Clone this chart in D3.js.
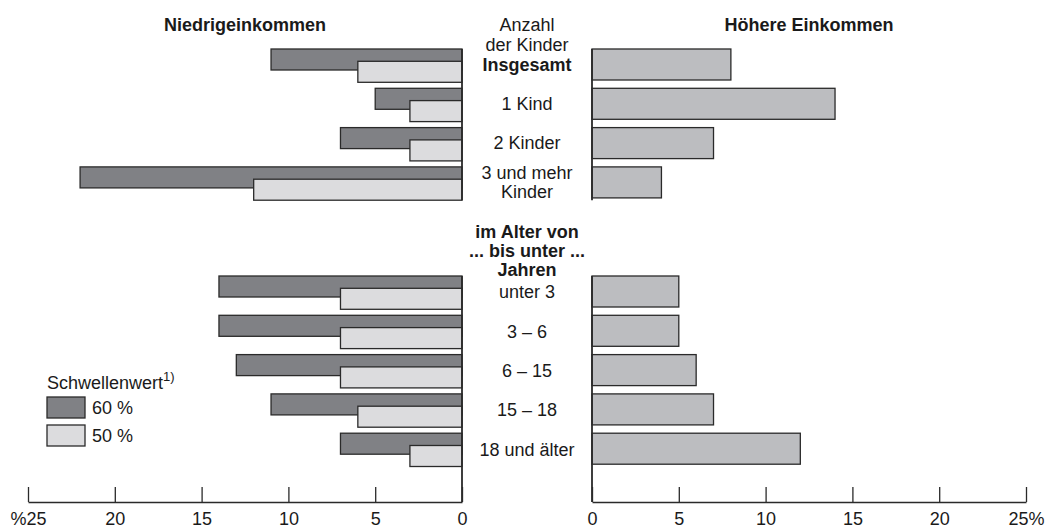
<!DOCTYPE html>
<html>
<head>
<meta charset="utf-8">
<script src="https://cdn.jsdelivr.net/npm/d3@7"></script>
<style>
  html, body { margin: 0; padding: 0; background: #fff; }
  svg { display: block; }
  text { font-family: "Liberation Sans", Arial, Helvetica, sans-serif; fill: #1a1a1a; }
</style>
</head>
<body>
<svg id="chart" width="1046" height="529"></svg>
<script>
// ---- data ----
const kinderCategories = [["Insgesamt"], ["1 Kind"], ["2 Kinder"], ["3 und mehr", "Kinder"]];
const kinderLow60 = [11, 5, 7, 22];
const kinderLow50 = [6, 3, 3, 12];
const kinderHigh = [8, 14, 7, 4];

const alterCategories = [["unter 3"], ["3 – 6"], ["6 – 15"], ["15 – 18"], ["18 und älter"]];
const alterLow60 = [14, 14, 13, 11, 7];
const alterLow50 = [7, 7, 7, 6, 3];
const alterHigh = [5, 5, 6, 7, 12];

const tickValues = [0, 5, 10, 15, 20, 25];
const leftTickLabels = ["0", "5", "10", "15", "20", "%25"];
const rightTickLabels = ["0", "5", "10", "15", "20", "25%"];

const titleLeft = "Niedrigeinkommen";
const titleRight = "Höhere Einkommen";
const kinderHeader = ["Anzahl", "der Kinder"];
const alterHeader = ["im Alter von", "... bis unter ...", "Jahren"];
const legendTitle = "Schwellenwert";
const legendLabels = ["60 %", "50 %"];

// ---- layout ----
const svg = d3.select("#chart");
const C_DARK = "#808185", C_LIGHT = "#dcdcde", C_RIGHT = "#bcbdc0", C_STROKE = "#2a2a2a";
const xL = d3.scaleLinear().domain([0, 25]).range([462, 28]);
const xR = d3.scaleLinear().domain([0, 25]).range([592, 1026]);
const midX = 527;
const step = 39.3;
const axisY = 502;
const barH = 21, lightOff = 12.3, rightH = 31;

function drawGroup(cats, low60, low50, high, top, boldFirst, lineExtendTo, labelOff) {
  const idx = cats.map((d, i) => i);
  const y = d3.scaleBand().domain(idx).range([top, top + step * cats.length]).padding(0);
  const g = svg.append("g");
  g.selectAll(".d").data(idx).join("rect")
    .attr("x", i => xL(low60[i])).attr("width", i => xL(0) - xL(low60[i]))
    .attr("y", i => y(i)).attr("height", barH)
    .attr("fill", C_DARK).attr("stroke", C_STROKE).attr("stroke-width", 1.3);
  g.selectAll(".l").data(idx).join("rect")
    .attr("x", i => xL(low50[i])).attr("width", i => xL(0) - xL(low50[i]))
    .attr("y", i => y(i) + lightOff).attr("height", barH)
    .attr("fill", C_LIGHT).attr("stroke", C_STROKE).attr("stroke-width", 1.3);
  g.selectAll(".r").data(idx).join("rect")
    .attr("x", xR(0)).attr("width", i => xR(high[i]) - xR(0))
    .attr("y", i => y(i)).attr("height", rightH)
    .attr("fill", C_RIGHT).attr("stroke", C_STROKE).attr("stroke-width", 1.3);
  const yEnd = lineExtendTo != null ? lineExtendTo : y(idx[idx.length - 1]) + lightOff + barH;
  [xL(0), xR(0)].forEach(xx => {
    g.append("line").attr("x1", xx).attr("x2", xx)
      .attr("y1", y(0)).attr("y2", yEnd)
      .attr("stroke", C_STROKE).attr("stroke-width", 1.8);
  });
  idx.forEach(i => {
    const lines = cats[i];
    const cy = y(i) + labelOff;
    const lh = 19.5;
    lines.forEach((t, k) => {
      g.append("text").attr("x", midX)
        .attr("y", cy + (k - (lines.length - 1) / 2) * lh)
        .attr("dy", "0.35em").attr("text-anchor", "middle")
        .attr("font-size", 18)
        .attr("font-weight", (boldFirst && i === 0) ? "bold" : "normal")
        .text(t);
    });
  });
  return y;
}

const y1 = drawGroup(kinderCategories, kinderLow60, kinderLow50, kinderHigh, 49, true, null, 15.5);
const y2 = drawGroup(alterCategories, alterLow60, alterLow50, alterHigh, 276, false, axisY, 16);

// headers
kinderHeader.forEach((t, k) => {
  svg.append("text").attr("x", midX).attr("y", y1(0) + 15 - (kinderHeader.length - k) * 19.5)
    .attr("dy", "0.35em").attr("text-anchor", "middle").attr("font-size", 18).text(t);
});
alterHeader.forEach((t, k) => {
  svg.append("text").attr("x", midX).attr("y", y2(0) + 16 - 22 - (alterHeader.length - 1 - k) * 19.2)
    .attr("dy", "0.35em").attr("text-anchor", "middle").attr("font-size", 18)
    .attr("font-weight", "bold").text(t);
});

// titles
svg.append("text").attr("x", (xL(0) + xL(25)) / 2).attr("y", 30.5)
  .attr("text-anchor", "middle").attr("font-size", 18).attr("font-weight", "bold").text(titleLeft);
svg.append("text").attr("x", (xR(0) + xR(25)) / 2).attr("y", 30.5)
  .attr("text-anchor", "middle").attr("font-size", 18).attr("font-weight", "bold").text(titleRight);

// axes
function styleAxis(g) {
  g.select(".domain").attr("stroke", C_STROKE).attr("stroke-width", 1.5);
  g.selectAll(".tick line").attr("stroke", C_STROKE).attr("stroke-width", 1.3);
  g.selectAll(".tick text").attr("font-size", 18).attr("fill", "#1a1a1a")
    .attr("font-family", '"Liberation Sans", Arial, sans-serif');
}
const axL = d3.axisBottom(xL).tickValues(tickValues).tickSizeInner(-15).tickSizeOuter(0)
  .tickPadding(10).tickFormat((d, i) => leftTickLabels[i]);
const axR = d3.axisBottom(xR).tickValues(tickValues).tickSizeInner(-15).tickSizeOuter(0)
  .tickPadding(10).tickFormat((d, i) => rightTickLabels[i]);
svg.append("g").attr("transform", `translate(0,${axisY})`).call(axL).call(styleAxis);
svg.append("g").attr("transform", `translate(0,${axisY})`).call(axR).call(styleAxis);

// legend
const lg = svg.append("g");
const lt = lg.append("text").attr("x", 47).attr("y", 389).attr("font-size", 18);
lt.append("tspan").text(legendTitle);
lt.append("tspan").attr("font-size", 13).attr("dy", -8).text("1)");
[C_DARK, C_LIGHT].forEach((c, i) => {
  lg.append("rect").attr("x", 47).attr("y", 397 + i * 28).attr("width", 38).attr("height", 21)
    .attr("fill", c).attr("stroke", C_STROKE).attr("stroke-width", 1.3);
  lg.append("text").attr("x", 92).attr("y", 397 + i * 28 + 10.5).attr("dy", "0.35em")
    .attr("font-size", 18).text(legendLabels[i]);
});
</script>
</body>
</html>
